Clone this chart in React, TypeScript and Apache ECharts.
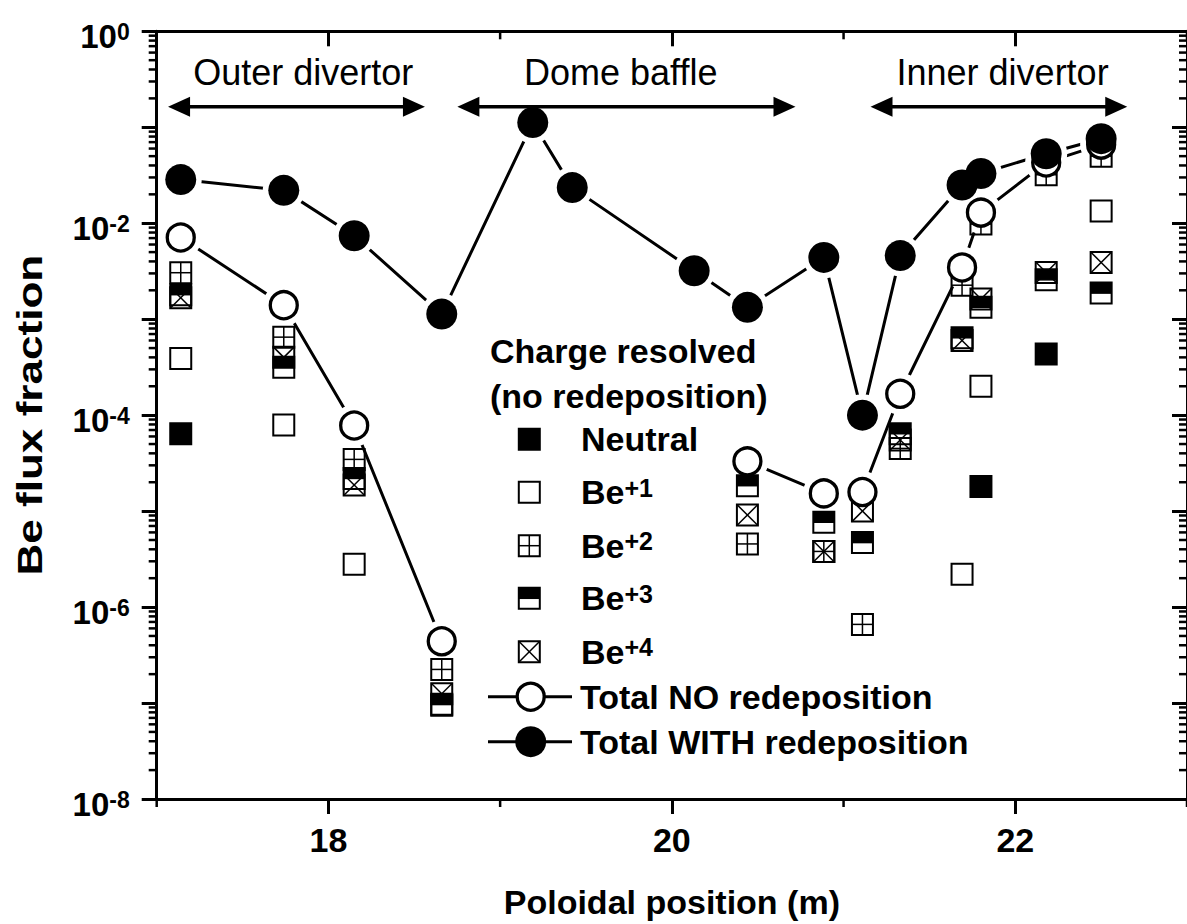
import React, { useEffect, useRef } from "react";
import * as echarts from "echarts";

const FONT = '"Liberation Sans", Arial, Helvetica, sans-serif';

// Poloidal position of each wall segment (m)
const positions = [17.14, 17.74, 18.15, 18.66, 19.19, 19.42, 20.13, 20.44, 20.885, 21.11, 21.33, 21.69, 21.8, 22.18, 22.5];

// Total Be flux fraction with and without redeposition
const totalWithRedeposition = [2.85e-2, 2.2e-2, 7.4e-3, 1.13e-3, 0.112, 2.35e-2, 3.2e-3, 1.33e-3, 4.4e-3, 1.0e-4, 4.6e-3, 2.5e-2, 3.3e-2, 5.3e-2, 7.6e-2];
const totalNoRedeposition = [7.1e-3, 1.4e-3, 7.8e-5, 4.4e-7, null, null, null, 3.3e-5, 1.53e-5, 1.58e-5, 1.67e-4, 3.46e-3, 1.29e-2, 4.3e-2, 6.6e-2];

// Charge-resolved fractions (no redeposition)
const neutral = [6.4e-5, null, null, null, null, null, null, null, null, null, null, null, 1.8e-5, 4.35e-4, null];
const beIon1 = [3.9e-4, 7.9e-5, 2.8e-6, 9.5e-8, null, null, null, null, null, null, null, 2.2e-6, 2.0e-4, null, 1.34e-2];
const beIon2 = [3.05e-3, 6.5e-4, 3.46e-5, 2.24e-7, null, null, null, 4.55e-6, 3.8e-6, 6.6e-7, 4.5e-5, 2.26e-3, 9.8e-3, 3.2e-2, 5.0e-2];
const beIon3 = [1.8e-3, 3.16e-4, 2.19e-5, 9.7e-8, null, null, null, 1.84e-5, 7.65e-6, 4.7e-6, 6.4e-5, 6.4e-4, 1.33e-3, 2.57e-3, 1.87e-3];
const beIon4 = [1.67e-3, 4.0e-4, 1.87e-5, 1.25e-7, null, null, null, 9.1e-6, 3.8e-6, 1.0e-5, 5.5e-5, 6.0e-4, 1.62e-3, 3.07e-3, 3.9e-3];

// Axis ranges, ticks and titles
const xMin = 17;
const xMax = 23;
const yMin = 1e-8;
const yMax = 1;
const xTickValues = [18, 20, 22];
const xMinorTickValues = [17, 19, 21, 23];
const yDecades = [-8, -7, -6, -5, -4, -3, -2, -1];
const yMinorMultipliers = [2, 3, 4, 5, 6, 7, 8, 9];
const xTitle = "Poloidal position (m)";
const yTitle = "Be flux fraction";

// Wall regions marked above the curves
const regions = [
  { name: "Outer divertor", from: 17.066, to: 18.562, labelX: 17.853 },
  { name: "Dome baffle", from: 18.751, to: 20.72, labelX: 19.702 },
  { name: "Inner divertor", from: 21.157, to: 22.652, labelX: 21.926 },
];
const arrowLevel = 0.164;
const regionLabelLevel = 0.37;

const chargeStates = [
  { key: "neutral", base: "Neutral", charge: "", values: neutral },
  { key: "p1", base: "Be", charge: "+1", values: beIon1 },
  { key: "p2", base: "Be", charge: "+2", values: beIon2 },
  { key: "p3", base: "Be", charge: "+3", values: beIon3 },
  { key: "p4", base: "Be", charge: "+4", values: beIon4 },
];

const SQUARE = 21;
const OPEN_SIZE = 27;
const FILLED_SIZE = 31;

function lineEl(x1: number, y1: number, x2: number, y2: number, w = 1.5) {
  return { type: "line", shape: { x1, y1, x2, y2 }, style: { stroke: "#000", lineWidth: w, fill: "none" } };
}

// Square marker pieces for each charge state
function squareElements(kind: string, cx: number, cy: number, z = 0) {
  const s = SQUARE;
  const h = s / 2;
  const x0 = cx - h;
  const y0 = cy - h;
  const els: any[] = [];
  if (kind === "neutral") {
    els.push({ type: "rect", shape: { x: x0, y: y0, width: s, height: s }, style: { fill: "#000", stroke: "#000", lineWidth: 2 } });
  } else {
    if (kind === "p3") {
      els.push({ type: "rect", shape: { x: x0, y: y0, width: s, height: h }, style: { fill: "#000", stroke: "none" } });
      els.push(lineEl(x0, cy, x0 + s, cy));
    }
    if (kind === "p2") {
      els.push(lineEl(cx, y0, cx, y0 + s));
      els.push(lineEl(x0, cy, x0 + s, cy));
    }
    if (kind === "p4") {
      els.push(lineEl(x0, y0, x0 + s, y0 + s));
      els.push(lineEl(x0 + s, y0, x0, y0 + s));
    }
    els.push({ type: "rect", shape: { x: x0, y: y0, width: s, height: s }, style: { fill: "none", stroke: "#000", lineWidth: 2 } });
  }
  if (z) els.forEach((e) => (e.z = z));
  return els;
}

function pairs(values: (number | null)[], keepNull: boolean) {
  const out: any[] = [];
  positions.forEach((x, i) => {
    const v = values[i];
    if (v == null) {
      if (keepNull) out.push([x, null]);
    } else out.push([x, v]);
  });
  return out;
}

function buildOption(): any {
  const tickData: number[][] = [];
  yDecades.forEach((d) => yMinorMultipliers.forEach((m) => tickData.push([xMin, m * Math.pow(10, d), 1])));
  xMinorTickValues.forEach((v) => tickData.push([v, yMin, 2]));

  const circlePoints = [...pairs(totalWithRedeposition, false), ...pairs(totalNoRedeposition, false)];

  const axisLine = { show: true, lineStyle: { color: "#000", width: 3 } };
  const boldName = { fontSize: 34, fontWeight: "bold", fontFamily: FONT, color: "#000" };

  const squareSeries = chargeStates.map((cs) => ({
    type: "custom",
    name: cs.base + cs.charge,
    z: 3,
    silent: true,
    clip: false,
    data: pairs(cs.values, false),
    renderItem: (_p: any, api: any) => {
      const pt = api.coord([api.value(0), api.value(1)]);
      return { type: "group", children: squareElements(cs.key, pt[0], pt[1]) };
    },
  }));

  return {
    animation: false,
    backgroundColor: "#fff",
    textStyle: { fontFamily: FONT },
    grid: { left: 156.7, top: 31.3, right: -6, bottom: 122.3 },
    xAxis: [
      {
        type: "value",
        position: "bottom",
        min: xMin,
        max: xMax,
        axisLine,
        axisTick: { show: true, customValues: xTickValues, length: 15, lineStyle: { color: "#000", width: 3 } },
        axisLabel: { customValues: xTickValues, fontSize: 34, fontWeight: "bold", fontFamily: FONT, color: "#000", margin: 24 },
        splitLine: { show: false },
        name: xTitle,
        nameLocation: "middle",
        nameGap: 86,
        nameTextStyle: boldName,
      },
      {
        type: "value",
        position: "top",
        min: xMin,
        max: xMax,
        axisLine,
        axisTick: { show: true, inside: true, customValues: xTickValues, length: 15, lineStyle: { color: "#000", width: 3 } },
        axisLabel: { show: false },
        splitLine: { show: false },
      },
    ],
    yAxis: [
      {
        type: "log",
        logBase: 10,
        min: yMin,
        max: yMax,
        splitNumber: 8,
        position: "left",
        axisLine,
        axisTick: { show: true, length: 15, lineStyle: { color: "#000", width: 3 } },
        axisLabel: {
          margin: 27,
          formatter: (v: number) => {
            const e = Math.round(Math.log10(v));
            return e % 2 === 0 ? `{b|10}{s|${e}}` : "";
          },
          rich: {
            b: { fontSize: 33, fontWeight: "bold", fontFamily: FONT, color: "#000", lineHeight: 32, padding: [10, 0, 0, 0] },
            s: { fontSize: 23, fontWeight: "bold", fontFamily: FONT, color: "#000", lineHeight: 22, padding: [5, 0, 0, 0], verticalAlign: "top" },
          },
        },
        splitLine: { show: false },
      },
      {
        type: "log",
        logBase: 10,
        min: yMin,
        max: yMax,
        splitNumber: 8,
        position: "right",
        axisLine,
        axisTick: { show: true, inside: true, length: 15, lineStyle: { color: "#000", width: 3 } },
        axisLabel: { show: false },
        splitLine: { show: false },
      },
    ],
    series: [
      {
        type: "line",
        name: "Total NO redeposition line",
        z: 1,
        data: pairs(totalNoRedeposition, true),
        symbol: "none",
        connectNulls: false,
        lineStyle: { color: "#000", width: 3 },
        silent: true,
      },
      {
        type: "line",
        name: "Total WITH redeposition line",
        z: 1,
        data: pairs(totalWithRedeposition, false),
        symbol: "none",
        lineStyle: { color: "#000", width: 3 },
        silent: true,
      },
      {
        // white halo that opens a small gap in the lines around each circle
        type: "scatter",
        name: "halo",
        z: 2,
        data: circlePoints,
        symbol: "circle",
        symbolSize: 42,
        itemStyle: { color: "#fff", borderWidth: 0, opacity: 1 },
        silent: true,
      },
      ...squareSeries,
      {
        type: "scatter",
        name: "Total NO redeposition",
        z: 4,
        data: pairs(totalNoRedeposition, false),
        symbol: "circle",
        symbolSize: OPEN_SIZE,
        itemStyle: { color: "#fff", borderColor: "#000", borderWidth: 3.3, opacity: 1 },
        silent: true,
      },
      {
        type: "scatter",
        name: "Total WITH redeposition",
        z: 5,
        data: pairs(totalWithRedeposition, false),
        symbol: "circle",
        symbolSize: FILLED_SIZE,
        itemStyle: { color: "#000", opacity: 1 },
        silent: true,
      },
      {
        // minor ticks: log sub-decades on both y edges, odd metres on both x edges
        type: "custom",
        name: "minor ticks",
        z: 6,
        silent: true,
        clip: false,
        data: tickData,
        renderItem: (_p: any, api: any) => {
          const kind = api.value(2);
          if (kind === 1) {
            const v = api.value(1);
            const l = api.coord([xMin, v]);
            const r = api.coord([xMax, v]);
            return {
              type: "group",
              children: [lineEl(l[0] - 8, l[1], l[0], l[1], 2.5), lineEl(r[0] - 8, r[1], r[0], r[1], 2.5)],
            };
          }
          const v = api.value(0);
          const b = api.coord([v, yMin]);
          const t = api.coord([v, yMax]);
          return {
            type: "group",
            children: [lineEl(b[0], b[1], b[0], b[1] + 8, 2.5), lineEl(t[0], t[1], t[0], t[1] + 8, 2.5)],
          };
        },
      },
    ],
  };
}

function textEl(text: string, x: number, y: number, opts: any = {}) {
  const align = opts.align || "left";
  return {
    type: "text",
    x,
    y,
    z: 100,
    rotation: opts.rotation || 0,
    scaleX: opts.scaleX || 1,
    style: {
      text,
      fill: "#000",
      fontSize: opts.fontSize || 34,
      fontWeight: opts.fontWeight || "bold",
      fontFamily: FONT,
      align,
      verticalAlign: "middle",
      textAlign: align,
      textVerticalAlign: "middle",
      rich: opts.rich,
    },
  };
}

function buildGraphics(chart: any) {
  const px = (x: number, y: number) => chart.convertToPixel({ xAxisIndex: 0, yAxisIndex: 0 }, [x, y]);
  const els: any[] = [];

  // Vertical axis title, set along the left edge and centred on the plot height
  const top = px(xMin, yMax);
  const bottom = px(xMin, yMin);
  els.push(textEl(yTitle, 30, (top[1] + bottom[1]) / 2, { align: "center", fontSize: 35, rotation: Math.PI / 2, scaleX: 1.26 }));

  // Region arrows and names
  regions.forEach((r) => {
    const a = px(r.from, arrowLevel);
    const b = px(r.to, arrowLevel);
    const t = px(r.labelX, regionLabelLevel);
    const y = a[1];
    const head = 22;
    const half = 10;
    els.push({ ...lineEl(a[0] + head - 2, y, b[0] - head + 2, y, 3.5), z: 100 });
    els.push({ type: "polygon", z: 100, shape: { points: [[a[0], y], [a[0] + head, y - half], [a[0] + head, y + half]] }, style: { fill: "#000" } });
    els.push({ type: "polygon", z: 100, shape: { points: [[b[0], y], [b[0] - head, y - half], [b[0] - head, y + half]] }, style: { fill: "#000" } });
    els.push(textEl(r.name, t[0], t[1], { align: "center", fontSize: 36, fontWeight: "normal" }));
  });

  // Legend
  const legendX = 490;
  const markerX = 529.3;
  const textX = 581;
  els.push(textEl("Charge resolved", legendX, 350.5));
  els.push(textEl("(no redeposition)", legendX, 396));
  const rowYs = [439.3, 492.3, 545.7, 598.3, 651.7];
  const superRich = {
    b: { fontSize: 34, fontWeight: "bold", fontFamily: FONT, fill: "#000", lineHeight: 34 },
    s: { fontSize: 25, fontWeight: "bold", fontFamily: FONT, fill: "#000", lineHeight: 16, verticalAlign: "top" },
  };
  chargeStates.forEach((cs, i) => {
    const y = rowYs[i];
    els.push(...squareElements(cs.key, markerX, y, 100));
    if (cs.charge) els.push(textEl(`{b|${cs.base}}{s|${cs.charge}}`, textX, y, { rich: superRich }));
    else els.push(textEl(cs.base, textX, y));
  });

  const totals = [
    { label: "Total NO redeposition", y: 696.7, filled: false },
    { label: "Total WITH redeposition", y: 741.7, filled: true },
  ];
  totals.forEach((t) => {
    els.push({ ...lineEl(488, t.y, 572, t.y, 3), z: 100 });
    els.push(
      t.filled
        ? { type: "circle", z: 101, shape: { cx: 530.7, cy: t.y, r: FILLED_SIZE / 2 }, style: { fill: "#000" } }
        : { type: "circle", z: 101, shape: { cx: 530.7, cy: t.y, r: OPEN_SIZE / 2 }, style: { fill: "#fff", stroke: "#000", lineWidth: 3.3 } }
    );
    els.push(textEl(t.label, 580, t.y));
  });

  return els;
}

export default function App() {
  const ref = useRef<HTMLDivElement>(null);
  useEffect(() => {
    const el = ref.current;
    if (!el) return;
    const chart = echarts.init(el, null, { renderer: "svg" });
    chart.setOption(buildOption());
    chart.setOption({ graphic: { elements: buildGraphics(chart) } });
    return () => chart.dispose();
  }, []);
  return (
    <div
      ref={ref}
      style={{ position: "fixed", left: 0, top: 0, width: 1187, height: 924, background: "#fff" }}
    />
  );
}
